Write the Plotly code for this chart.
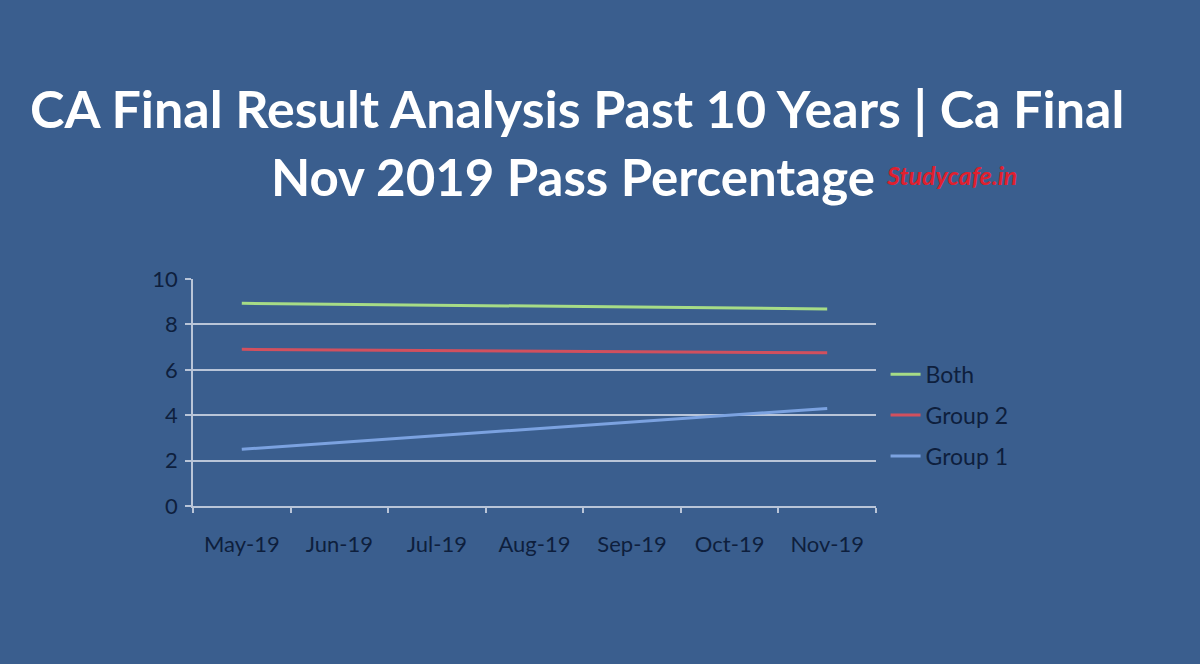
import plotly.graph_objects as go

months = ["May-19", "Jun-19", "Jul-19", "Aug-19", "Sep-19", "Oct-19", "Nov-19"]
group1 = [2.5, None, None, None, None, None, 4.3]
group2 = [6.9, None, None, None, None, None, 6.75]
both = [8.93, None, None, None, None, None, 8.68]

BG = "#3A5E8E"
TXT = "#0E1F3D"
GRID = "#B9C5D8"
FONT = "Lato, Open Sans, sans-serif"

fig = go.Figure()
fig.add_trace(go.Scatter(x=months, y=both, name="Both", mode="lines",
                         legendgroup="g3", connectgaps=True,
                         line=dict(color="#A6DC86", width=3)))
fig.add_trace(go.Scatter(x=months, y=group2, name="Group 2", mode="lines",
                         legendgroup="g2", connectgaps=True,
                         line=dict(color="#D2505E", width=3)))
fig.add_trace(go.Scatter(x=months, y=group1, name="Group 1", mode="lines",
                         legendgroup="g1", connectgaps=True,
                         line=dict(color="#7BA2E0", width=3)))

fig.update_layout(
    width=1200, height=664,
    paper_bgcolor=BG, plot_bgcolor=BG,
    margin=dict(l=193, r=324, t=279, b=158),
    font=dict(family=FONT, color=TXT, size=20),
    showlegend=True,
    legend=dict(x=1.014, y=0.40, xanchor="left", yanchor="middle",
                traceorder="grouped", bgcolor="rgba(0,0,0,0)",
                font=dict(size=23, color=TXT), tracegroupgap=8),
    xaxis=dict(
        type="category", categoryorder="array", categoryarray=months,
        range=[-0.5, 6.5], showgrid=False, showline=True, linecolor=GRID,
        linewidth=1.5, tickson="boundaries", ticks="outside", ticklen=5,
        tickcolor=GRID, tickwidth=1.5, tickfont=dict(size=22, color=TXT),
        ticklabelstandoff=18, zeroline=False,
    ),
    yaxis=dict(
        range=[0, 10], dtick=2, showgrid=True, gridcolor=GRID, gridwidth=1.5,
        showline=True, linecolor=GRID, linewidth=1.5, ticks="outside",
        ticklen=6, tickcolor=GRID, tickwidth=1.5,
        tickfont=dict(size=22, color=TXT), zeroline=False,
        ticklabelstandoff=3,
    ),
)

pw = 1200 - 193 - 324
ph = 664 - 279 - 158
def px(x):
    return (x - 193) / pw
def py(y):
    return (664 - 158 - y) / ph

fig.add_annotation(text="<b>CA Final Result Analysis Past 10 Years | Ca Final</b>",
                   xref="paper", yref="paper", x=px(577), y=py(108),
                   showarrow=False, xanchor="center", yanchor="middle",
                   font=dict(size=52, color="white", family=FONT))
fig.add_annotation(text="<b>Nov 2019 Pass Percentage</b>",
                   xref="paper", yref="paper", x=px(573), y=py(176),
                   showarrow=False, xanchor="center", yanchor="middle",
                   font=dict(size=51, color="white", family=FONT))
fig.add_annotation(text="<b><i>Studycafe.in</i></b>",
                   xref="paper", yref="paper", x=px(884), y=py(175),
                   showarrow=False, xanchor="left", yanchor="middle",
                   font=dict(size=25, color="#E0202E", family=FONT))

fig.write_html("out.html")
